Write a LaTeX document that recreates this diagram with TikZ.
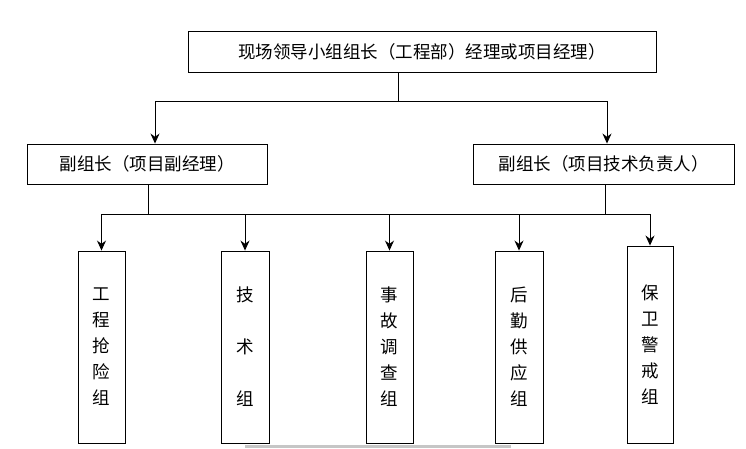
\documentclass[tikz,border=0pt]{standalone}
\usepackage{fontspec}
\setmainfont{Noto Sans CJK SC}
\usetikzlibrary{positioning,arrows.meta}

\tikzset{
  box/.style={draw, line width=0.9pt, inner sep=0pt, align=center},
  link/.style={line width=1pt},
}

\begin{document}
\begin{tikzpicture}[x=1pt, y=-1pt, >={Stealth[length=10pt,width=9pt]}, font=\fontsize{17.5}{26}\selectfont]
    \useasboundingbox (0,0) rectangle (746,448);

    % leader
    \node[box, minimum width=468pt, minimum height=41pt] (lead) at (422,51.5) {现场领导小组组长（工程部）经理或项目经理）};

    % deputies
    \node[box, minimum width=240pt, minimum height=40pt] (sub_L) at (147,164) {副组长（项目副经理）};
    \node[box, minimum width=261pt, minimum height=40pt] (sub_R) at (603.5,164) {副组长（项目技术负责人）};

    % groups
    \node[box, minimum width=47pt, minimum height=192pt] (G1) at (101.5,347) {工\\程\\抢\\险\\组};
    \node[box, minimum width=48pt, minimum height=192pt] (G2) at (245,347) {技\\~\\术\\~\\组};
    \node[box, minimum width=47pt, minimum height=192pt] (G3) at (389.5,347) {事\\故\\调\\查\\组};
    \node[box, minimum width=48pt, minimum height=192pt] (G4) at (519,347) {后\\勤\\供\\应\\组};
    \node[box, minimum width=46pt, minimum height=197pt] (G5) at (650,344.5) {保\\卫\\警\\戒\\组};

    % first level
    \coordinate (top_j) at (398,101);
    \coordinate (top_L) at (155,101);
    \coordinate (top_R) at (607,101);
    \draw[link] (lead.south -| top_j) -- (top_j);
    \draw[link] (top_L) -- (top_R);
    \draw[link,->] (top_L) -- (top_L |- sub_L.north);
    \draw[link,->] (top_R) -- (top_R |- sub_R.north);

    % second level
    \coordinate (mid_L) at (148,214);
    \coordinate (mid_R) at (605,214);
    \coordinate (bus_A) at (101,214);
    \coordinate (bus_B) at (651,214);
    \draw[link] (sub_L.south -| mid_L) -- (mid_L);
    \draw[link] (sub_R.south -| mid_R) -- (mid_R);
    \draw[link] (bus_A) -- (bus_B);
    \draw[link,->] (G1.north |- bus_A) -- (G1.north);
    \draw[link,->] (G2.north |- bus_A) -- (G2.north);
    \draw[link,->] (G3.north |- bus_A) -- (G3.north);
    \draw[link,->] (G4.north |- bus_A) -- (G4.north);
    \draw[link,->] (G5.north |- bus_A) -- (G5.north);

    % bar under the groups
    \fill[gray!45] (245,444.5) rectangle (511,448);
\end{tikzpicture}
\end{document}
